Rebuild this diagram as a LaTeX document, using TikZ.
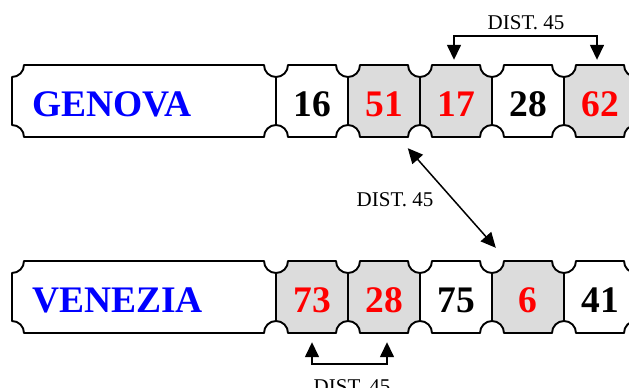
\documentclass[tikz,border=0pt]{standalone}
\usepackage{fontspec}
\setmainfont{Liberation Serif}
\usetikzlibrary{arrows.meta,calc}
\definecolor{cellgray}{HTML}{DCDCDC}
\definecolor{cityblue}{RGB}{0,0,255}
\definecolor{numred}{RGB}{255,0,0}
\def\nr{12}
\newcommand\tcell[5]{\path[#1] ({#2+\nr},#4) -- ({#3-\nr},#4) arc[start angle=180,end angle=270,radius=12pt] -- (#3,{#5+\nr}) arc[start angle=90,end angle=180,radius=12pt] -- ({#2+\nr},#5) arc[start angle=0,end angle=90,radius=12pt] -- (#2,{#4-\nr}) arc[start angle=270,end angle=360,radius=12pt] -- cycle;}
\tikzset{
  cellline/.style={draw=black,line width=1.9pt,line join=round},
  cellnum/.style={font=\fontsize{37.5}{40}\selectfont\bfseries,minimum width=72pt,minimum height=72pt,inner sep=0pt,text height=31pt,text depth=0pt},
  cityname/.style={font=\fontsize{37.5}{40}\selectfont\bfseries,text=cityblue,anchor=base west,inner sep=0pt},
  distlabel/.style={font=\fontsize{21}{24}\selectfont,inner sep=0pt},
  distarrow/.style={line width=1.5pt,{Triangle[length=15pt,width=14pt]}-{Triangle[length=15pt,width=14pt]}}
}
\begin{document}
\begin{tikzpicture}[x=1pt,y=1pt]
\useasboundingbox (0,0) rectangle (629,-388);
\clip (0,0) rectangle (629,-388);
% GENOVA row
\tcell{cellline,fill=white}{12}{276}{-65}{-137}
\tcell{cellline,fill=white}{276}{348}{-65}{-137}
\tcell{cellline,fill=cellgray}{348}{420}{-65}{-137}
\tcell{cellline,fill=cellgray}{420}{492}{-65}{-137}
\tcell{cellline,fill=white}{492}{564}{-65}{-137}
\tcell{cellline,fill=cellgray}{564}{636}{-65}{-137}
% VENEZIA row
\tcell{cellline,fill=white}{12}{276}{-261}{-333}
\tcell{cellline,fill=cellgray}{276}{348}{-261}{-333}
\tcell{cellline,fill=cellgray}{348}{420}{-261}{-333}
\tcell{cellline,fill=white}{420}{492}{-261}{-333}
\tcell{cellline,fill=cellgray}{492}{564}{-261}{-333}
\tcell{cellline,fill=white}{564}{636}{-261}{-333}
% labels
\node[cityname] (gname) at (32,-116) {GENOVA};
\node[cityname] (vname) at (32,-312) {VENEZIA};
\node[cellnum,text=black]   (g1) at (312,-101) {16};
\node[cellnum,text=numred]  (g2) at (384,-101) {51};
\node[cellnum,text=numred]  (g3) at (456,-101) {17};
\node[cellnum,text=black]   (g4) at (528,-101) {28};
\node[cellnum,text=numred]  (g5) at (600,-101) {62};
\node[cellnum,text=numred]  (v1) at (312,-297) {73};
\node[cellnum,text=numred]  (v2) at (384,-297) {28};
\node[cellnum,text=black]   (v3) at (456,-297) {75};
\node[cellnum,text=numred]  (v4) at (528,-297) {6};
\node[cellnum,text=black]   (v5) at (600,-297) {41};
% distance arrows
\draw[distarrow] ([shift={(-2,5)}]g3.north) -- ++(0,24) -| ([shift={(-3,5)}]g5.north);
\node[distlabel] (dtop) at (526,-23) {DIST. 45};
\draw[distarrow] ([shift={(-12,-11)}]g3.south west) -- ([shift={(4,13)}]v4.north west);
\node[distlabel] (dmid) at (395,-200) {DIST. 45};
\draw[distarrow] ([yshift=-9pt]v1.south) -- ++(0,-22) -| ([shift={(3,-9)}]v2.south);
\node[distlabel,anchor=base] (dbot) at (352,-393) {DIST. 45};
\end{tikzpicture}
\end{document}
